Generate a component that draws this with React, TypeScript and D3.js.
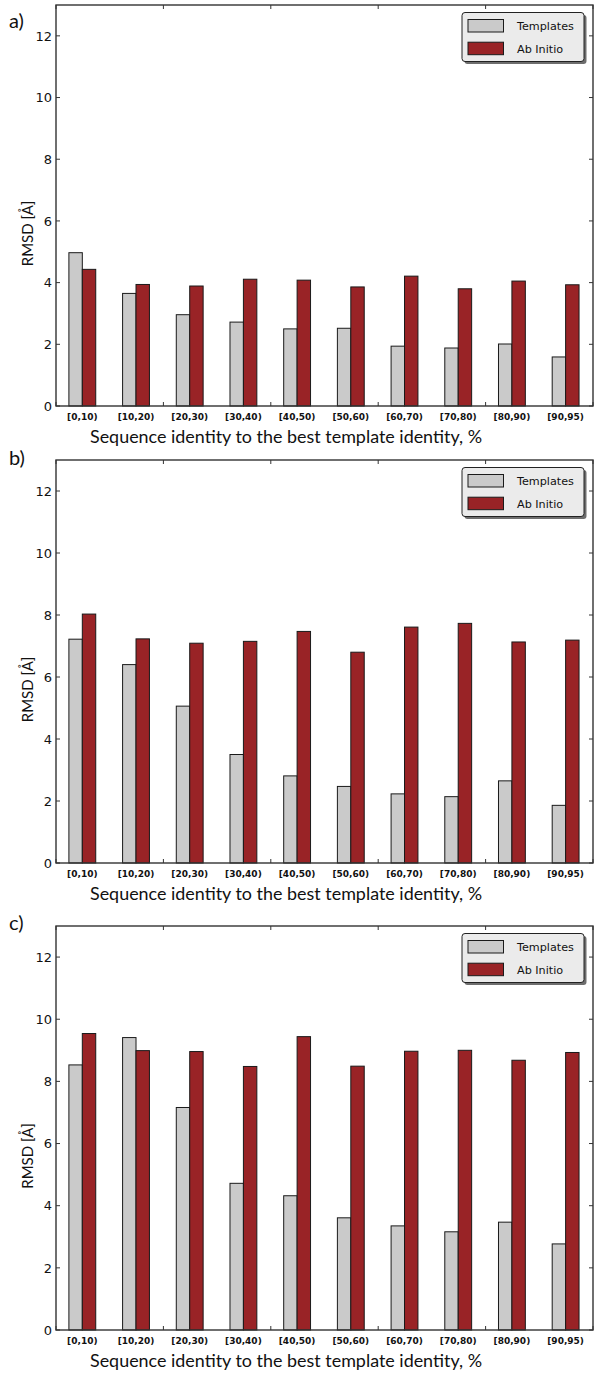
import React from "react";
import * as d3 from "d3";

const categories = ["[0,10)", "[10,20)", "[20,30)", "[30,40)", "[40,50)", "[50,60)", "[60,70)", "[70,80)", "[80,90)", "[90,95)"];
const seriesNames = ["Templates", "Ab Initio"];
const panelLabels = ["a)", "b)", "c)"];
const templatesA = [4.97, 3.65, 2.96, 2.72, 2.50, 2.52, 1.94, 1.88, 2.01, 1.59];
const abInitioA = [4.43, 3.94, 3.89, 4.11, 4.08, 3.86, 4.21, 3.80, 4.05, 3.93];
const templatesB = [7.22, 6.40, 5.06, 3.50, 2.81, 2.47, 2.23, 2.14, 2.65, 1.86];
const abInitioB = [8.03, 7.23, 7.09, 7.15, 7.47, 6.80, 7.61, 7.73, 7.13, 7.19];
const templatesC = [8.53, 9.41, 7.16, 4.72, 4.32, 3.61, 3.35, 3.16, 3.47, 2.77];
const abInitioC = [9.54, 8.99, 8.96, 8.48, 9.44, 8.49, 8.97, 9.00, 8.68, 8.93];
const yTicks = [0, 2, 4, 6, 8, 10, 12];
const xMinorTicks = [0, 2, 4, 6, 8, 10];
const yLabel = "RMSD [Å]";
const xLabel = "Sequence identity to the best template identity, %";

const COLORS = ["#cacaca", "#992326"];
const LEFT = 56;
const RIGHT = 593;
const panels = [
  { top: 5, bottom: 406, label: panelLabels[0], t: templatesA, a: abInitioA, labelY: 28 },
  { top: 460, bottom: 863, label: panelLabels[1], t: templatesB, a: abInitioB, labelY: 465 },
  { top: 926, bottom: 1330, label: panelLabels[2], t: templatesC, a: abInitioC, labelY: 930 },
];

const x = d3.scaleLinear().domain([0, categories.length]).range([LEFT, RIGHT]);
const BAR_OFF = 0.24;
const BAR_W = 0.25;

function Panel({ p }: { p: typeof panels[number] }) {
  const y = d3.scaleLinear().domain([0, 13]).range([p.bottom, p.top]);
  const series = [p.t, p.a];
  const legX = 462;
  const legY = p.top + 7.5;
  return (
    <g>
      <text x={9} y={p.labelY} fontFamily="Lato" fontSize={20} fill="#111">{p.label}</text>
      {series.map((vals, s) =>
        vals.map((v, i) => (
          <rect
            key={`${s}-${i}`}
            x={x(i + BAR_OFF + s * BAR_W)}
            y={y(v)}
            width={x(BAR_W) - x(0)}
            height={y(0) - y(v)}
            fill={COLORS[s]}
            stroke="#1a1a1a"
            strokeWidth={1}
          />
        ))
      )}
      {/* spines */}
      <rect x={LEFT} y={p.top} width={RIGHT - LEFT} height={p.bottom - p.top} fill="none" stroke="#333" strokeWidth={1.4} />
      {yTicks.map((t) => (
        <g key={t}>
          <line x1={LEFT} x2={LEFT + 4} y1={y(t)} y2={y(t)} stroke="#333" />
          <line x1={RIGHT - 4} x2={RIGHT} y1={y(t)} y2={y(t)} stroke="#333" />
          <text x={52} y={y(t)} dy="0.36em" textAnchor="end" fontFamily="DejaVu Sans" fontSize={13} fill="#111">{t}</text>
        </g>
      ))}
      {xMinorTicks.map((t) => (
        <g key={t}>
          <line x1={x(t)} x2={x(t)} y1={p.bottom} y2={p.bottom - 4} stroke="#333" />
          <line x1={x(t)} x2={x(t)} y1={p.top} y2={p.top + 4} stroke="#333" />
        </g>
      ))}
      {categories.map((c, i) => (
        <text key={c} x={x(i + BAR_OFF + BAR_W)} y={p.bottom + 13.5} textAnchor="middle" fontFamily="DejaVu Sans" fontWeight="bold" fontSize={9} fill="#111">{c}</text>
      ))}
      <text x={286} y={p.bottom + 36.7} textAnchor="middle" fontFamily="Lato" fontSize={18} fill="#111" textLength={392} lengthAdjust="spacingAndGlyphs">{xLabel}</text>
      <text transform={`translate(33,${(p.top + p.bottom) / 2 + 28}) rotate(-90)`} textAnchor="middle" fontFamily="Lato" fontSize={15} fill="#111">{yLabel}</text>
      {/* legend */}
      <rect x={legX + 2.5} y={legY + 2.5} width={122} height={49} rx={3} fill="#555" opacity={0.85} />
      <rect x={legX} y={legY} width={122} height={49} rx={3} fill="#ebebeb" stroke="#222" strokeWidth={1} />
      {seriesNames.map((n, s) => (
        <g key={n}>
          <rect x={legX + 6} y={legY + 7 + s * 22.7} width={35.5} height={12.5} fill={COLORS[s]} stroke="#1a1a1a" strokeWidth={1} />
          <text x={legX + 55} y={legY + 13.3 + s * 22.7} dy="0.36em" fontFamily="DejaVu Sans" fontSize={11.2} fill="#111">{n}</text>
        </g>
      ))}
    </g>
  );
}

export default function App() {
  return (
    <svg width={600} height={1385} style={{ position: "absolute", left: 0, top: 0, background: "#fff" }}>
      <rect width={600} height={1385} fill="#fff" />
      {panels.map((p) => (
        <Panel key={p.label} p={p} />
      ))}
    </svg>
  );
}
